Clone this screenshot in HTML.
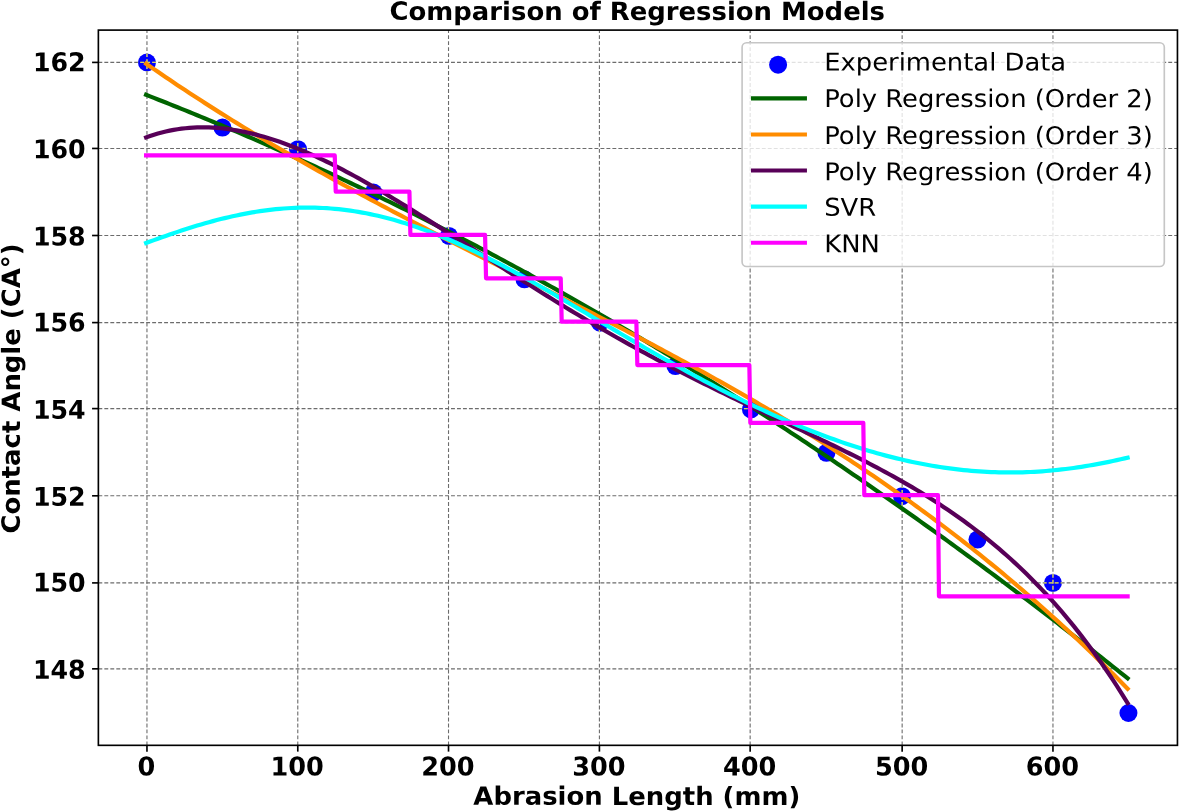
<!DOCTYPE html>
<html lang="en"><head><meta charset="utf-8"><title>Comparison of Regression Models</title>
<style>html,body{margin:0;padding:0;background:#fff;width:1181px;height:812px;overflow:hidden}</style>
</head><body>
<svg width="1181" height="812" viewBox="0 0 1181 812" style="display:block;position:absolute;left:0;top:0">
<rect x="0" y="0" width="1181" height="812" fill="#ffffff"/>
<g fill="#0000ff">
<circle cx="146.96" cy="62.50" r="9.00"/>
<circle cx="222.46" cy="127.55" r="9.00"/>
<circle cx="297.96" cy="149.23" r="9.00"/>
<circle cx="373.46" cy="192.60" r="9.00"/>
<circle cx="448.96" cy="235.97" r="9.00"/>
<circle cx="524.46" cy="279.33" r="9.00"/>
<circle cx="599.96" cy="322.70" r="9.00"/>
<circle cx="675.46" cy="366.07" r="9.00"/>
<circle cx="750.96" cy="409.44" r="9.00"/>
<circle cx="826.46" cy="452.80" r="9.00"/>
<circle cx="901.96" cy="496.17" r="9.00"/>
<circle cx="977.46" cy="539.54" r="9.00"/>
<circle cx="1052.96" cy="582.90" r="9.00"/>
<circle cx="1128.46" cy="713.00" r="9.00"/>
</g>
<g stroke="#6c6c6c" stroke-opacity="1" stroke-width="1.1" stroke-dasharray="3.9 2.085" fill="none">
<path d="M146.96 745.33 V30.10"/>
<path d="M297.78 745.33 V30.10"/>
<path d="M448.52 745.33 V30.10"/>
<path d="M599.41 745.33 V30.10"/>
<path d="M750.15 745.33 V30.10"/>
<path d="M902.15 745.33 V30.10"/>
<path d="M1052.96 745.33 V30.10"/>
<path stroke-dasharray="3.9 2.077" d="M98.37 62.41 H1177.45"/>
<path stroke-dasharray="3.9 2.077" d="M98.37 148.45 H1177.45"/>
<path stroke-dasharray="3.9 2.077" d="M98.37 235.50 H1177.45"/>
<path stroke-dasharray="3.9 2.077" d="M98.37 322.60 H1177.45"/>
<path stroke-dasharray="3.9 2.077" d="M98.37 408.60 H1177.45"/>
<path stroke-dasharray="3.9 2.077" d="M98.37 495.80 H1177.45"/>
<path stroke-dasharray="3.9 2.077" d="M98.37 582.90 H1177.45"/>
<path stroke-dasharray="3.9 2.077" d="M98.37 668.85 H1177.45"/>
</g>
<clipPath id="dots">
<circle cx="146.96" cy="62.50" r="9.30"/>
<circle cx="222.46" cy="127.55" r="9.30"/>
<circle cx="297.96" cy="149.23" r="9.30"/>
<circle cx="373.46" cy="192.60" r="9.30"/>
<circle cx="448.96" cy="235.97" r="9.30"/>
<circle cx="524.46" cy="279.33" r="9.30"/>
<circle cx="599.96" cy="322.70" r="9.30"/>
<circle cx="675.46" cy="366.07" r="9.30"/>
<circle cx="750.96" cy="409.44" r="9.30"/>
<circle cx="826.46" cy="452.80" r="9.30"/>
<circle cx="901.96" cy="496.17" r="9.30"/>
<circle cx="977.46" cy="539.54" r="9.30"/>
<circle cx="1052.96" cy="582.90" r="9.30"/>
<circle cx="1128.46" cy="713.00" r="9.30"/>
</clipPath>
<g clip-path="url(#dots)" stroke="#e6e268" stroke-opacity="0.9" stroke-width="1.35" stroke-dasharray="3.9 2.085" fill="none">
<path d="M146.96 745.33 V30.10"/>
<path d="M297.78 745.33 V30.10"/>
<path d="M448.52 745.33 V30.10"/>
<path d="M599.41 745.33 V30.10"/>
<path d="M750.15 745.33 V30.10"/>
<path d="M902.15 745.33 V30.10"/>
<path d="M1052.96 745.33 V30.10"/>
<path stroke-dasharray="3.9 2.077" d="M98.37 62.41 H1177.45"/>
<path stroke-dasharray="3.9 2.077" d="M98.37 148.45 H1177.45"/>
<path stroke-dasharray="3.9 2.077" d="M98.37 235.50 H1177.45"/>
<path stroke-dasharray="3.9 2.077" d="M98.37 322.60 H1177.45"/>
<path stroke-dasharray="3.9 2.077" d="M98.37 408.60 H1177.45"/>
<path stroke-dasharray="3.9 2.077" d="M98.37 495.80 H1177.45"/>
<path stroke-dasharray="3.9 2.077" d="M98.37 582.90 H1177.45"/>
<path stroke-dasharray="3.9 2.077" d="M98.37 668.85 H1177.45"/>
</g>
<g fill="none" stroke-width="4.2" stroke-linejoin="round" stroke-linecap="square">
<path stroke="#006400" d="M146.11 94.83 L150.04 96.36 L153.97 97.89 L157.90 99.44 L161.83 100.99 L165.76 102.54 L169.69 104.11 L173.62 105.68 L177.55 107.25 L181.48 108.83 L185.41 110.42 L189.34 112.02 L193.27 113.62 L197.20 115.23 L201.13 116.84 L205.06 118.46 L208.99 120.09 L212.92 121.72 L216.85 123.37 L220.78 125.01 L224.71 126.67 L228.64 128.33 L232.57 129.99 L236.50 131.66 L240.43 133.34 L244.36 135.03 L248.29 136.72 L252.22 138.42 L256.15 140.13 L260.08 141.84 L264.01 143.56 L267.94 145.28 L271.87 147.01 L275.80 148.75 L279.73 150.49 L283.66 152.24 L287.59 154.00 L291.52 155.77 L295.45 157.54 L299.38 159.31 L303.31 161.10 L307.24 162.88 L311.17 164.68 L315.10 166.48 L319.03 168.29 L322.96 170.11 L326.89 171.93 L330.82 173.76 L334.75 175.59 L338.68 177.43 L342.61 179.28 L346.54 181.14 L350.47 183.00 L354.40 184.86 L358.33 186.74 L362.26 188.62 L366.19 190.50 L370.12 192.40 L374.05 194.30 L377.98 196.20 L381.91 198.12 L385.84 200.04 L389.77 201.96 L393.70 203.89 L397.63 205.83 L401.56 207.78 L405.49 209.73 L409.42 211.69 L413.35 213.65 L417.28 215.62 L421.21 217.60 L425.14 219.58 L429.06 221.57 L432.99 223.57 L436.92 225.57 L440.85 227.58 L444.78 229.60 L448.71 231.62 L452.64 233.65 L456.57 235.69 L460.50 237.73 L464.43 239.78 L468.36 241.83 L472.29 243.89 L476.22 245.96 L480.15 248.04 L484.08 250.12 L488.01 252.20 L491.94 254.30 L495.87 256.40 L499.80 258.51 L503.73 260.62 L507.66 262.74 L511.59 264.87 L515.52 267.00 L519.45 269.14 L523.38 271.28 L527.31 273.44 L531.24 275.59 L535.17 277.76 L539.10 279.93 L543.03 282.11 L546.96 284.29 L550.89 286.49 L554.82 288.68 L558.75 290.89 L562.68 293.10 L566.61 295.32 L570.54 297.54 L574.47 299.77 L578.40 302.01 L582.33 304.25 L586.26 306.50 L590.19 308.75 L594.12 311.02 L598.05 313.28 L601.98 315.56 L605.91 317.84 L609.84 320.13 L613.77 322.43 L617.70 324.73 L621.63 327.03 L625.56 329.35 L629.49 331.67 L633.42 334.00 L637.35 336.33 L641.28 338.67 L645.21 341.02 L649.14 343.37 L653.07 345.73 L657.00 348.10 L660.93 350.47 L664.86 352.85 L668.79 355.23 L672.72 357.62 L676.65 360.02 L680.58 362.43 L684.51 364.84 L688.44 367.26 L692.37 369.68 L696.30 372.11 L700.23 374.55 L704.16 376.99 L708.09 379.44 L712.02 381.90 L715.95 384.36 L719.88 386.83 L723.81 389.31 L727.74 391.79 L731.67 394.28 L735.60 396.78 L739.53 399.28 L743.46 401.79 L747.39 404.30 L751.32 406.82 L755.25 409.35 L759.18 411.89 L763.11 414.43 L767.04 416.97 L770.97 419.53 L774.90 422.09 L778.83 424.66 L782.76 427.23 L786.69 429.81 L790.62 432.40 L794.55 434.99 L798.48 437.59 L802.41 440.19 L806.34 442.81 L810.27 445.42 L814.20 448.05 L818.13 450.68 L822.06 453.32 L825.99 455.96 L829.92 458.61 L833.85 461.27 L837.78 463.94 L841.71 466.61 L845.64 469.28 L849.57 471.97 L853.50 474.66 L857.43 477.35 L861.36 480.06 L865.29 482.77 L869.22 485.48 L873.15 488.20 L877.08 490.93 L881.01 493.67 L884.94 496.41 L888.87 499.16 L892.80 501.91 L896.73 504.67 L900.66 507.44 L904.59 510.22 L908.52 513.00 L912.45 515.78 L916.38 518.58 L920.31 521.38 L924.24 524.18 L928.17 527.00 L932.10 529.82 L936.03 532.64 L939.96 535.47 L943.89 538.31 L947.82 541.16 L951.75 544.01 L955.68 546.87 L959.61 549.73 L963.54 552.61 L967.47 555.48 L971.40 558.37 L975.33 561.26 L979.26 564.16 L983.19 567.06 L987.12 569.97 L991.04 572.89 L994.97 575.81 L998.90 578.74 L1002.83 581.68 L1006.76 584.62 L1010.69 587.57 L1014.62 590.52 L1018.55 593.48 L1022.48 596.45 L1026.41 599.43 L1030.34 602.41 L1034.27 605.40 L1038.20 608.39 L1042.13 611.39 L1046.06 614.40 L1049.99 617.41 L1053.92 620.43 L1057.85 623.46 L1061.78 626.49 L1065.71 629.53 L1069.64 632.58 L1073.57 635.63 L1077.50 638.69 L1081.43 641.76 L1085.36 644.83 L1089.29 647.91 L1093.22 650.99 L1097.15 654.09 L1101.08 657.18 L1105.01 660.29 L1108.94 663.40 L1112.87 666.52 L1116.80 669.64 L1120.73 672.77 L1124.66 675.91 L1127.61 678.26"/>
<path stroke="#ff8c00" d="M146.11 63.68 L150.04 66.42 L153.97 69.14 L157.90 71.84 L161.83 74.53 L165.76 77.20 L169.69 79.86 L173.62 82.50 L177.55 85.13 L181.48 87.74 L185.41 90.34 L189.34 92.93 L193.27 95.50 L197.20 98.05 L201.13 100.60 L205.06 103.13 L208.99 105.64 L212.92 108.14 L216.85 110.63 L220.78 113.11 L224.71 115.57 L228.64 118.02 L232.57 120.46 L236.50 122.89 L240.43 125.30 L244.36 127.70 L248.29 130.09 L252.22 132.47 L256.15 134.84 L260.08 137.20 L264.01 139.54 L267.94 141.88 L271.87 144.20 L275.80 146.51 L279.73 148.81 L283.66 151.11 L287.59 153.39 L291.52 155.66 L295.45 157.92 L299.38 160.18 L303.31 162.42 L307.24 164.65 L311.17 166.88 L315.10 169.09 L319.03 171.30 L322.96 173.50 L326.89 175.69 L330.82 177.87 L334.75 180.05 L338.68 182.22 L342.61 184.37 L346.54 186.53 L350.47 188.67 L354.40 190.81 L358.33 192.94 L362.26 195.06 L366.19 197.17 L370.12 199.28 L374.05 201.39 L377.98 203.48 L381.91 205.58 L385.84 207.66 L389.77 209.74 L393.70 211.81 L397.63 213.88 L401.56 215.95 L405.49 218.00 L409.42 220.06 L413.35 222.11 L417.28 224.15 L421.21 226.19 L425.14 228.23 L429.06 230.26 L432.99 232.29 L436.92 234.31 L440.85 236.33 L444.78 238.35 L448.71 240.37 L452.64 242.38 L456.57 244.39 L460.50 246.39 L464.43 248.40 L468.36 250.40 L472.29 252.40 L476.22 254.39 L480.15 256.39 L484.08 258.38 L488.01 260.38 L491.94 262.37 L495.87 264.36 L499.80 266.35 L503.73 268.33 L507.66 270.32 L511.59 272.31 L515.52 274.30 L519.45 276.28 L523.38 278.27 L527.31 280.26 L531.24 282.24 L535.17 284.23 L539.10 286.22 L543.03 288.21 L546.96 290.20 L550.89 292.19 L554.82 294.19 L558.75 296.18 L562.68 298.18 L566.61 300.18 L570.54 302.18 L574.47 304.18 L578.40 306.19 L582.33 308.19 L586.26 310.21 L590.19 312.22 L594.12 314.24 L598.05 316.26 L601.98 318.28 L605.91 320.31 L609.84 322.34 L613.77 324.37 L617.70 326.41 L621.63 328.45 L625.56 330.50 L629.49 332.55 L633.42 334.61 L637.35 336.67 L641.28 338.74 L645.21 340.81 L649.14 342.89 L653.07 344.97 L657.00 347.06 L660.93 349.16 L664.86 351.26 L668.79 353.37 L672.72 355.48 L676.65 357.60 L680.58 359.73 L684.51 361.87 L688.44 364.01 L692.37 366.16 L696.30 368.31 L700.23 370.48 L704.16 372.65 L708.09 374.83 L712.02 377.02 L715.95 379.21 L719.88 381.42 L723.81 383.63 L727.74 385.86 L731.67 388.09 L735.60 390.33 L739.53 392.58 L743.46 394.84 L747.39 397.11 L751.32 399.39 L755.25 401.68 L759.18 403.98 L763.11 406.29 L767.04 408.61 L770.97 410.94 L774.90 413.28 L778.83 415.63 L782.76 418.00 L786.69 420.37 L790.62 422.76 L794.55 425.16 L798.48 427.57 L802.41 429.99 L806.34 432.43 L810.27 434.87 L814.20 437.33 L818.13 439.80 L822.06 442.29 L825.99 444.79 L829.92 447.30 L833.85 449.83 L837.78 452.36 L841.71 454.92 L845.64 457.48 L849.57 460.06 L853.50 462.66 L857.43 465.27 L861.36 467.89 L865.29 470.53 L869.22 473.18 L873.15 475.85 L877.08 478.53 L881.01 481.23 L884.94 483.95 L888.87 486.68 L892.80 489.42 L896.73 492.19 L900.66 494.96 L904.59 497.76 L908.52 500.57 L912.45 503.40 L916.38 506.25 L920.31 509.11 L924.24 511.99 L928.17 514.89 L932.10 517.80 L936.03 520.73 L939.96 523.68 L943.89 526.65 L947.82 529.64 L951.75 532.64 L955.68 535.67 L959.61 538.71 L963.54 541.77 L967.47 544.85 L971.40 547.96 L975.33 551.07 L979.26 554.21 L983.19 557.37 L987.12 560.55 L991.04 563.75 L994.97 566.97 L998.90 570.21 L1002.83 573.47 L1006.76 576.75 L1010.69 580.06 L1014.62 583.38 L1018.55 586.73 L1022.48 590.09 L1026.41 593.48 L1030.34 596.89 L1034.27 600.32 L1038.20 603.78 L1042.13 607.25 L1046.06 610.75 L1049.99 614.28 L1053.92 617.82 L1057.85 621.39 L1061.78 624.98 L1065.71 628.59 L1069.64 632.23 L1073.57 635.89 L1077.50 639.58 L1081.43 643.29 L1085.36 647.02 L1089.29 650.78 L1093.22 654.56 L1097.15 658.37 L1101.08 662.20 L1105.01 666.06 L1108.94 669.94 L1112.87 673.85 L1116.80 677.78 L1120.73 681.74 L1124.66 685.73 L1127.61 688.73"/>
<path stroke="#580058" d="M146.11 137.41 L150.04 136.01 L153.97 134.72 L157.90 133.54 L161.83 132.47 L165.76 131.51 L169.69 130.65 L173.62 129.90 L177.55 129.25 L181.48 128.70 L185.41 128.24 L189.34 127.89 L193.27 127.62 L197.20 127.45 L201.13 127.37 L205.06 127.37 L208.99 127.46 L212.92 127.64 L216.85 127.90 L220.78 128.23 L224.71 128.65 L228.64 129.15 L232.57 129.72 L236.50 130.36 L240.43 131.08 L244.36 131.86 L248.29 132.72 L252.22 133.64 L256.15 134.63 L260.08 135.68 L264.01 136.79 L267.94 137.96 L271.87 139.19 L275.80 140.48 L279.73 141.83 L283.66 143.23 L287.59 144.68 L291.52 146.18 L295.45 147.73 L299.38 149.33 L303.31 150.98 L307.24 152.67 L311.17 154.41 L315.10 156.19 L319.03 158.01 L322.96 159.87 L326.89 161.76 L330.82 163.70 L334.75 165.67 L338.68 167.68 L342.61 169.72 L346.54 171.79 L350.47 173.89 L354.40 176.02 L358.33 178.18 L362.26 180.37 L366.19 182.58 L370.12 184.82 L374.05 187.08 L377.98 189.36 L381.91 191.67 L385.84 194.00 L389.77 196.34 L393.70 198.70 L397.63 201.09 L401.56 203.48 L405.49 205.89 L409.42 208.32 L413.35 210.76 L417.28 213.21 L421.21 215.68 L425.14 218.15 L429.06 220.64 L432.99 223.13 L436.92 225.63 L440.85 228.14 L444.78 230.65 L448.71 233.17 L452.64 235.69 L456.57 238.22 L460.50 240.75 L464.43 243.28 L468.36 245.82 L472.29 248.35 L476.22 250.89 L480.15 253.43 L484.08 255.96 L488.01 258.49 L491.94 261.02 L495.87 263.55 L499.80 266.07 L503.73 268.59 L507.66 271.11 L511.59 273.62 L515.52 276.12 L519.45 278.62 L523.38 281.11 L527.31 283.60 L531.24 286.07 L535.17 288.54 L539.10 291.00 L543.03 293.45 L546.96 295.89 L550.89 298.33 L554.82 300.75 L558.75 303.16 L562.68 305.56 L566.61 307.95 L570.54 310.33 L574.47 312.70 L578.40 315.06 L582.33 317.40 L586.26 319.74 L590.19 322.06 L594.12 324.37 L598.05 326.66 L601.98 328.94 L605.91 331.21 L609.84 333.47 L613.77 335.71 L617.70 337.95 L621.63 340.16 L625.56 342.37 L629.49 344.56 L633.42 346.74 L637.35 348.90 L641.28 351.06 L645.21 353.19 L649.14 355.32 L653.07 357.43 L657.00 359.53 L660.93 361.62 L664.86 363.70 L668.79 365.76 L672.72 367.81 L676.65 369.85 L680.58 371.87 L684.51 373.89 L688.44 375.89 L692.37 377.88 L696.30 379.86 L700.23 381.83 L704.16 383.79 L708.09 385.74 L712.02 387.68 L715.95 389.62 L719.88 391.54 L723.81 393.45 L727.74 395.36 L731.67 397.26 L735.60 399.15 L739.53 401.03 L743.46 402.91 L747.39 404.78 L751.32 406.65 L755.25 408.52 L759.18 410.37 L763.11 412.23 L767.04 414.08 L770.97 415.93 L774.90 417.78 L778.83 419.63 L782.76 421.47 L786.69 423.32 L790.62 425.17 L794.55 427.01 L798.48 428.87 L802.41 430.72 L806.34 432.58 L810.27 434.44 L814.20 436.31 L818.13 438.18 L822.06 440.06 L825.99 441.95 L829.92 443.85 L833.85 445.76 L837.78 447.68 L841.71 449.61 L845.64 451.55 L849.57 453.50 L853.50 455.47 L857.43 457.46 L861.36 459.46 L865.29 461.47 L869.22 463.51 L873.15 465.56 L877.08 467.64 L881.01 469.74 L884.94 471.86 L888.87 474.00 L892.80 476.17 L896.73 478.36 L900.66 480.58 L904.59 482.83 L908.52 485.11 L912.45 487.42 L916.38 489.76 L920.31 492.13 L924.24 494.54 L928.17 496.99 L932.10 499.47 L936.03 501.99 L939.96 504.55 L943.89 507.15 L947.82 509.79 L951.75 512.48 L955.68 515.21 L959.61 517.99 L963.54 520.82 L967.47 523.69 L971.40 526.62 L975.33 529.60 L979.26 532.64 L983.19 535.73 L987.12 538.88 L991.04 542.08 L994.97 545.35 L998.90 548.68 L1002.83 552.07 L1006.76 555.52 L1010.69 559.05 L1014.62 562.64 L1018.55 566.30 L1022.48 570.04 L1026.41 573.84 L1030.34 577.73 L1034.27 581.69 L1038.20 585.72 L1042.13 589.84 L1046.06 594.05 L1049.99 598.33 L1053.92 602.70 L1057.85 607.16 L1061.78 611.71 L1065.71 616.36 L1069.64 621.09 L1073.57 625.92 L1077.50 630.85 L1081.43 635.88 L1085.36 641.00 L1089.29 646.24 L1093.22 651.57 L1097.15 657.02 L1101.08 662.57 L1105.01 668.24 L1108.94 674.02 L1112.87 679.92 L1116.80 685.93 L1120.73 692.06 L1124.66 698.32 L1127.61 703.09"/>
<path stroke="#00ffff" d="M146.11 243.04 L150.04 241.58 L153.97 240.14 L157.90 238.71 L161.83 237.30 L165.76 235.91 L169.69 234.54 L173.62 233.19 L177.55 231.87 L181.48 230.56 L185.41 229.29 L189.34 228.03 L193.27 226.81 L197.20 225.61 L201.13 224.44 L205.06 223.30 L208.99 222.20 L212.92 221.12 L216.85 220.09 L220.78 219.08 L224.71 218.11 L228.64 217.18 L232.57 216.29 L236.50 215.43 L240.43 214.62 L244.36 213.84 L248.29 213.11 L252.22 212.42 L256.15 211.77 L260.08 211.17 L264.01 210.61 L267.94 210.09 L271.87 209.63 L275.80 209.20 L279.73 208.83 L283.66 208.51 L287.59 208.23 L291.52 208.00 L295.45 207.82 L299.38 207.69 L303.31 207.61 L307.24 207.58 L311.17 207.61 L315.10 207.68 L319.03 207.80 L322.96 207.98 L326.89 208.20 L330.82 208.48 L334.75 208.81 L338.68 209.19 L342.61 209.63 L346.54 210.11 L350.47 210.65 L354.40 211.23 L358.33 211.87 L362.26 212.56 L366.19 213.30 L370.12 214.09 L374.05 214.93 L377.98 215.81 L381.91 216.75 L385.84 217.73 L389.77 218.77 L393.70 219.85 L397.63 220.97 L401.56 222.15 L405.49 223.36 L409.42 224.63 L413.35 225.93 L417.28 227.28 L421.21 228.67 L425.14 230.11 L429.06 231.58 L432.99 233.10 L436.92 234.65 L440.85 236.25 L444.78 237.88 L448.71 239.54 L452.64 241.25 L456.57 242.98 L460.50 244.75 L464.43 246.56 L468.36 248.39 L472.29 250.26 L476.22 252.16 L480.15 254.08 L484.08 256.04 L488.01 258.02 L491.94 260.02 L495.87 262.05 L499.80 264.11 L503.73 266.19 L507.66 268.28 L511.59 270.40 L515.52 272.54 L519.45 274.70 L523.38 276.88 L527.31 279.07 L531.24 281.28 L535.17 283.50 L539.10 285.73 L543.03 287.98 L546.96 290.24 L550.89 292.51 L554.82 294.79 L558.75 297.08 L562.68 299.38 L566.61 301.68 L570.54 303.99 L574.47 306.31 L578.40 308.63 L582.33 310.95 L586.26 313.28 L590.19 315.61 L594.12 317.94 L598.05 320.26 L601.98 322.59 L605.91 324.92 L609.84 327.25 L613.77 329.57 L617.70 331.89 L621.63 334.20 L625.56 336.51 L629.49 338.82 L633.42 341.12 L637.35 343.41 L641.28 345.69 L645.21 347.97 L649.14 350.24 L653.07 352.49 L657.00 354.74 L660.93 356.98 L664.86 359.21 L668.79 361.43 L672.72 363.63 L676.65 365.83 L680.58 368.01 L684.51 370.18 L688.44 372.33 L692.37 374.47 L696.30 376.60 L700.23 378.71 L704.16 380.81 L708.09 382.89 L712.02 384.95 L715.95 387.00 L719.88 389.04 L723.81 391.05 L727.74 393.05 L731.67 395.03 L735.60 396.99 L739.53 398.94 L743.46 400.86 L747.39 402.77 L751.32 404.66 L755.25 406.53 L759.18 408.38 L763.11 410.20 L767.04 412.01 L770.97 413.80 L774.90 415.57 L778.83 417.31 L782.76 419.04 L786.69 420.74 L790.62 422.42 L794.55 424.07 L798.48 425.71 L802.41 427.32 L806.34 428.91 L810.27 430.47 L814.20 432.02 L818.13 433.53 L822.06 435.03 L825.99 436.49 L829.92 437.94 L833.85 439.35 L837.78 440.75 L841.71 442.11 L845.64 443.45 L849.57 444.77 L853.50 446.05 L857.43 447.31 L861.36 448.54 L865.29 449.75 L869.22 450.93 L873.15 452.08 L877.08 453.20 L881.01 454.29 L884.94 455.35 L888.87 456.38 L892.80 457.38 L896.73 458.36 L900.66 459.30 L904.59 460.21 L908.52 461.09 L912.45 461.94 L916.38 462.76 L920.31 463.55 L924.24 464.31 L928.17 465.03 L932.10 465.72 L936.03 466.38 L939.96 467.00 L943.89 467.60 L947.82 468.16 L951.75 468.68 L955.68 469.17 L959.61 469.63 L963.54 470.06 L967.47 470.45 L971.40 470.80 L975.33 471.12 L979.26 471.41 L983.19 471.66 L987.12 471.88 L991.04 472.06 L994.97 472.21 L998.90 472.33 L1002.83 472.40 L1006.76 472.45 L1010.69 472.46 L1014.62 472.43 L1018.55 472.37 L1022.48 472.28 L1026.41 472.15 L1030.34 471.98 L1034.27 471.78 L1038.20 471.55 L1042.13 471.28 L1046.06 470.98 L1049.99 470.65 L1053.92 470.28 L1057.85 469.88 L1061.78 469.45 L1065.71 468.99 L1069.64 468.49 L1073.57 467.96 L1077.50 467.40 L1081.43 466.81 L1085.36 466.19 L1089.29 465.54 L1093.22 464.85 L1097.15 464.14 L1101.08 463.41 L1105.01 462.64 L1108.94 461.84 L1112.87 461.02 L1116.80 460.17 L1120.73 459.30 L1124.66 458.40 L1127.61 457.71"/>
<path stroke="#ff00ff" d="M146.11 155.44 L334.75 155.44 L335.73 191.58 L409.42 191.58 L410.40 234.95 L485.07 234.95 L486.05 278.31 L560.72 278.31 L561.70 321.68 L636.37 321.68 L637.35 365.05 L749.35 365.05 L750.34 422.87 L863.32 422.87 L864.30 495.15 L937.99 495.15 L938.97 596.34 L1127.61 596.34"/>
</g>
<rect x="98.37" y="30.10" width="1079.08" height="715.23" fill="none" stroke="#000" stroke-width="1.65" stroke-linejoin="miter"/>
<g stroke="#000" stroke-width="1.65">
<path d="M146.96 745.33 v6.30"/>
<path d="M297.78 745.33 v6.30"/>
<path d="M448.52 745.33 v6.30"/>
<path d="M599.41 745.33 v6.30"/>
<path d="M750.15 745.33 v6.30"/>
<path d="M902.15 745.33 v6.30"/>
<path d="M1052.96 745.33 v6.30"/>
<path d="M98.37 62.41 h-6.30"/>
<path d="M98.37 148.45 h-6.30"/>
<path d="M98.37 235.50 h-6.30"/>
<path d="M98.37 322.60 h-6.30"/>
<path d="M98.37 408.60 h-6.30"/>
<path d="M98.37 495.80 h-6.30"/>
<path d="M98.37 582.90 h-6.30"/>
<path d="M98.37 668.85 h-6.30"/>
</g>
<g font-family="DejaVu Sans, Liberation Sans, sans-serif" font-weight="bold" font-size="25.2" fill="#000">
<text transform="translate(637.25 20.00) rotate(0.03) scale(1.0280 1)" text-anchor="middle">Comparison of Regression Models</text>
<text transform="translate(636.80 804.90) rotate(0.03) scale(1.0280 1)" text-anchor="middle">Abrasion Length (mm)</text>
<text transform="translate(19.90 388.50) rotate(-89.97) scale(1.0280 1)" text-anchor="middle">Contact Angle (CA°)</text>
<text transform="translate(146.36 775.40) rotate(0.03) scale(0.9870 1)" text-anchor="middle" font-size="25.9">0</text>
<text transform="translate(297.18 775.40) rotate(0.03) scale(0.9870 1)" text-anchor="middle" font-size="25.9">100</text>
<text transform="translate(447.92 775.40) rotate(0.03) scale(0.9870 1)" text-anchor="middle" font-size="25.9">200</text>
<text transform="translate(598.81 775.40) rotate(0.03) scale(0.9870 1)" text-anchor="middle" font-size="25.9">300</text>
<text transform="translate(749.55 775.40) rotate(0.03) scale(0.9870 1)" text-anchor="middle" font-size="25.9">400</text>
<text transform="translate(901.55 775.40) rotate(0.03) scale(0.9870 1)" text-anchor="middle" font-size="25.9">500</text>
<text transform="translate(1052.36 775.40) rotate(0.03) scale(0.9870 1)" text-anchor="middle" font-size="25.9">600</text>
<text transform="translate(85.70 71.38) rotate(0.03) scale(0.9760 1)" text-anchor="end" font-size="25.9">162</text>
<text transform="translate(85.70 158.38) rotate(0.03) scale(0.9760 1)" text-anchor="end" font-size="25.9">160</text>
<text transform="translate(85.70 245.49) rotate(0.03) scale(0.9760 1)" text-anchor="end" font-size="25.9">158</text>
<text transform="translate(85.70 331.45) rotate(0.03) scale(0.9760 1)" text-anchor="end" font-size="25.9">156</text>
<text transform="translate(85.70 418.68) rotate(0.03) scale(0.9760 1)" text-anchor="end" font-size="25.9">154</text>
<text transform="translate(85.70 505.68) rotate(0.03) scale(0.9760 1)" text-anchor="end" font-size="25.9">152</text>
<text transform="translate(85.70 591.64) rotate(0.03) scale(0.9760 1)" text-anchor="end" font-size="25.9">150</text>
<text transform="translate(85.70 678.68) rotate(0.03) scale(0.9760 1)" text-anchor="end" font-size="25.9">148</text>
</g>
<rect x="742.10" y="42.70" width="422.20" height="223.80" rx="4.5" ry="4.5" fill="#fff" fill-opacity="0.8" stroke="#c6c6c6" stroke-opacity="1" stroke-width="1.65"/>
<circle cx="778.1" cy="64.7" r="9.00" fill="#0000ff"/>
<g fill="none" stroke-width="4.1" stroke-linecap="square">
<path stroke="#006400" d="M753 98.40 H804.9"/>
<path stroke="#ff8c00" d="M753 134.50 H804.9"/>
<path stroke="#580058" d="M753 170.50 H804.9"/>
<path stroke="#00ffff" d="M753 206.60 H804.9"/>
<path stroke="#ff00ff" d="M753 242.70 H804.9"/>
</g>
<g font-family="DejaVu Sans, Liberation Sans, sans-serif" font-size="24.5" fill="#000">
<text transform="translate(824.20 70.50) rotate(0.03) scale(1.0545 1)" text-anchor="start">Experimental Data</text>
<text transform="translate(824.20 107.00) rotate(0.03) scale(1.0545 1)" text-anchor="start">Poly Regression (Order 2)</text>
<text transform="translate(824.20 144.05) rotate(0.03) scale(1.0545 1)" text-anchor="start">Poly Regression (Order 3)</text>
<text transform="translate(824.20 180.30) rotate(0.03) scale(1.0545 1)" text-anchor="start">Poly Regression (Order 4)</text>
<text transform="translate(824.20 215.85) rotate(0.03) scale(1.0545 1)" text-anchor="start">SVR</text>
<text transform="translate(824.20 252.35) rotate(0.03) scale(1.0545 1)" text-anchor="start">KNN</text>
</g>
</svg>
</body></html>
